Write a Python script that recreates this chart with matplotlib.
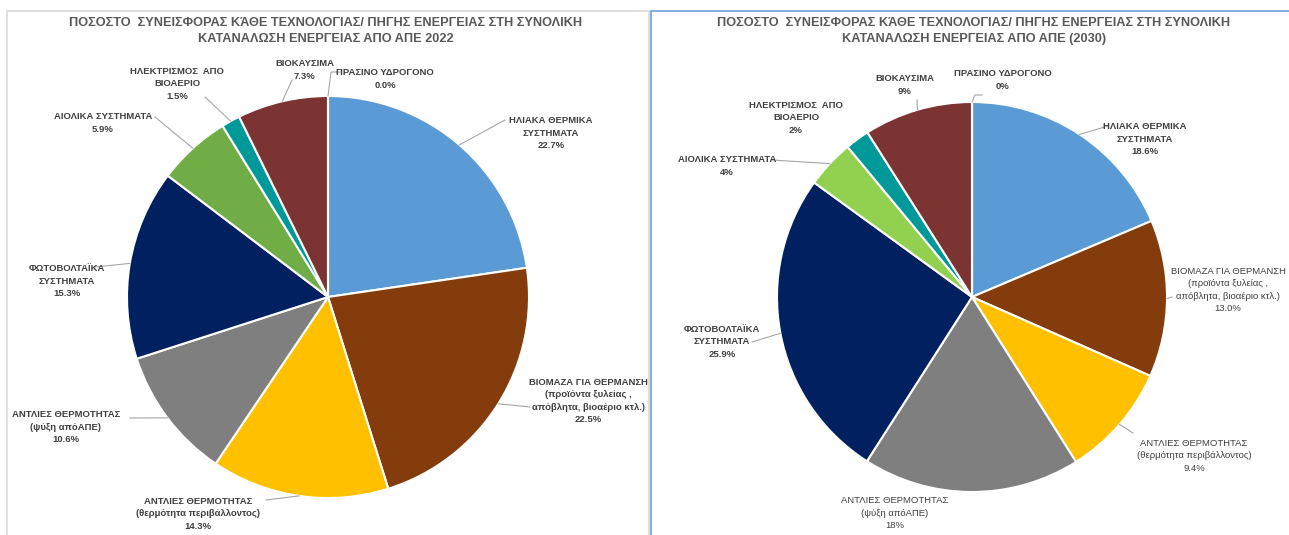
import matplotlib.pyplot as plt
from matplotlib.patches import Rectangle
import numpy as np

# categories (same order for both years, clockwise from 12 o'clock)
categories = [
    "ΗΛΙΑΚΑ ΘΕΡΜΙΚΑ\nΣΥΣΤΗΜΑΤΑ",
    "ΒΙΟΜΑΖΑ ΓΙΑ ΘΕΡΜΑΝΣΗ\n(προϊόντα ξυλείας ,\nαπόβλητα, βιοαέριο κτλ.)",
    "ΑΝΤΛΙΕΣ ΘΕΡΜΟΤΗΤΑΣ\n(θερμότητα περιβάλλοντος)",
    "ΑΝΤΛΙΕΣ ΘΕΡΜΟΤΗΤΑΣ\n(ψύξη απόΑΠΕ)",
    "ΦΩΤΟΒΟΛΤΑΪΚΑ\nΣΥΣΤΗΜΑΤΑ",
    "ΑΙΟΛΙΚΑ ΣΥΣΤΗΜΑΤΑ",
    "ΗΛΕΚΤΡΙΣΜΟΣ  ΑΠΟ\nΒΙΟΑΕΡΙΟ",
    "ΒΙΟΚΑΥΣΙΜΑ",
    "ΠΡΑΣΙΝΟ ΥΔΡΟΓΟΝΟ",
]
share_2022 = [22.7, 22.5, 14.3, 10.6, 15.3, 5.9, 1.5, 7.3, 0.0]
share_2030 = [18.6, 13.0, 9.4, 18.0, 25.9, 4.0, 2.0, 9.0, 0.0]
pct_text_2022 = ["22.7%", "22.5%", "14.3%", "10.6%", "15.3%", "5.9%", "1.5%", "7.3%", "0.0%"]
pct_text_2030 = ["18.6%", "13.0%", "9.4%", "18%", "25.9%", "4%", "2%", "9%", "0%"]

title_2022 = "ΠΟΣΟΣΤΟ  ΣΥΝΕΙΣΦΟΡΑΣ ΚΆΘΕ ΤΕΧΝΟΛΟΓΙΑΣ/ ΠΗΓΗΣ ΕΝΕΡΓΕΙΑΣ ΣΤΗ ΣΥΝΟΛΙΚΗ\nΚΑΤΑΝΑΛΩΣΗ ΕΝΕΡΓΕΙΑΣ ΑΠΟ ΑΠΕ 2022"
title_2030 = "ΠΟΣΟΣΤΟ  ΣΥΝΕΙΣΦΟΡΑΣ ΚΆΘΕ ΤΕΧΝΟΛΟΓΙΑΣ/ ΠΗΓΗΣ ΕΝΕΡΓΕΙΑΣ ΣΤΗ ΣΥΝΟΛΙΚΗ\nΚΑΤΑΝΑΛΩΣΗ ΕΝΕΡΓΕΙΑΣ ΑΠΟ ΑΠΕ (2030)"

colors_2022 = ["#5B9BD5", "#843C0C", "#FFC000", "#7F7F7F", "#002060", "#70AD47", "#009999", "#7B3431", "#4472C4"]
colors_2030 = ["#5B9BD5", "#843C0C", "#FFC000", "#7F7F7F", "#002060", "#92D050", "#009999", "#7B3431", "#4472C4"]

W, H = 1289, 535
FONT = ["Liberation Sans Narrow", "Liberation Sans", "DejaVu Sans"]
TXT = "#404040"

# layout in pixels (x, y from top)
# label block centres and leader line ends
lab_pos_2022 = [(551, 133), (588, 401), (198, 514), (66, 427), (67, 281),
                (103, 123), (177, 84), (305, 70), (385, 79)]
lead_end_2022 = [(505, 120), (530, 407), (266, 500), (130, 418), (95, 267),
                 (155, 117), (205, 97), (292, 80), (340, 72)]
lab_pos_2030 = [(1145, 139), (1228, 290), (1194, 456), (895, 513), (722, 342),
                (727, 166), (796, 118), (905, 85), (1003, 80)]
lead_end_2030 = [(1108, 126), (1172, 297), (1133, 433), None, (752, 342),
                 (772, 160), None, (917, 100), (982, 95)]

fig = plt.figure(figsize=(W / 100, H / 100), dpi=100)
ax = fig.add_axes([0, 0, 1, 1])


def fy(y):
    return H - y


def draw(vals, colors, pct_text, lab_pos, lead_end, center, radius, title, tx, bold_first):
    cx, cy = center
    ax.pie(vals, colors=colors, center=(cx, fy(cy)), radius=radius, startangle=90,
           counterclock=False, wedgeprops=dict(edgecolor="white", linewidth=1.5))
    tot = float(np.sum(vals))
    cum = np.cumsum(vals)
    for i, v in enumerate(vals):
        mid = 90 - 360 * (cum[i] - v / 2) / tot
        ex = cx + radius * np.cos(np.radians(mid))
        ey = cy - radius * np.sin(np.radians(mid))
        if lead_end[i] is not None:
            lx, ly = lead_end[i]
            if i == len(vals) - 1:
                ax.plot([ex, ex + 3, lx], [fy(ey), fy(ly), fy(ly)], color="#A6A6A6", lw=0.8)
            else:
                ax.plot([ex, lx], [fy(ey), fy(ly)], color="#A6A6A6", lw=0.8)
        px, py = lab_pos[i]
        ax.text(px, fy(py), categories[i] + "\n" + pct_text[i], ha="center", va="center",
                fontsize=6.8, color=TXT, family=FONT, linespacing=1.5,
                fontweight="bold" if i in bold_first else "normal")
    ax.text(tx, fy(31), title, ha="center", va="center", fontsize=9.2, fontweight="bold",
            color="#595959", family=FONT, linespacing=1.45)


draw(share_2022, colors_2022, pct_text_2022, lab_pos_2022, lead_end_2022,
     (328, 297), 201, title_2022, 326, bold_first=range(9))
draw(share_2030, colors_2030, pct_text_2030, lab_pos_2030, lead_end_2030,
     (972, 297), 195, title_2030, 974, bold_first=[0, 4, 5, 6, 7, 8])

# panel frames
ax.add_patch(Rectangle((7, -5), 642, fy(11) + 5, fill=False, edgecolor="#D9D9D9", lw=1.2))
ax.add_patch(Rectangle((651, -5), 660, fy(11) + 5, fill=False, edgecolor="#6FA0D8", lw=1.2))

ax.set_xlim(0, W)
ax.set_ylim(0, H)
ax.set_aspect("equal")
ax.axis("off")

fig.savefig("out.png", dpi=100)
